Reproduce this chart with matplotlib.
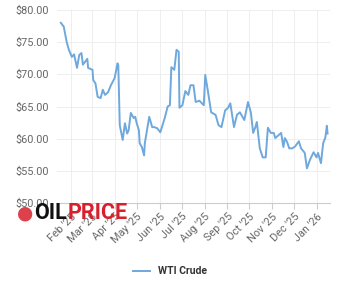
import matplotlib
matplotlib.use("Agg")
import matplotlib.pyplot as plt
import matplotlib.dates as mdates
import pandas as pd

# WTI Crude, approximate closes
dates = [
    "2025-01-18", "2025-01-22", "2025-01-26", "2025-01-29", "2025-02-02",
    "2025-02-05", "2025-02-09", "2025-02-12", "2025-02-15", "2025-02-17",
    "2025-02-23", "2025-02-24", "2025-03-02", "2025-03-03", "2025-03-06",
    "2025-03-09", "2025-03-13", "2025-03-16", "2025-03-19", "2025-03-23",
    "2025-03-27", "2025-04-01", "2025-04-05", "2025-04-06", "2025-04-08",
    "2025-04-12", "2025-04-15", "2025-04-18", "2025-04-20", "2025-04-23",
    "2025-04-27", "2025-04-29", "2025-05-01", "2025-05-04", "2025-05-05",
    "2025-05-08", "2025-05-11", "2025-05-12", "2025-05-18", "2025-05-22",
    "2025-05-25", "2025-05-29", "2025-06-02", "2025-06-08", "2025-06-12",
    "2025-06-15", "2025-06-17", "2025-06-21", "2025-06-24", "2025-06-27",
    "2025-06-28", "2025-07-02", "2025-07-06", "2025-07-10", "2025-07-13",
    "2025-07-17", "2025-07-20", "2025-07-25", "2025-07-31", "2025-08-02",
    "2025-08-06", "2025-08-10", "2025-08-16", "2025-08-20", "2025-08-24",
    "2025-08-29", "2025-09-02", "2025-09-05", "2025-09-10", "2025-09-14",
    "2025-09-18", "2025-09-24", "2025-09-29", "2025-10-03", "2025-10-06",
    "2025-10-09", "2025-10-11", "2025-10-15", "2025-10-19", "2025-10-23",
    "2025-10-26", "2025-10-30", "2025-11-03", "2025-11-05", "2025-11-10",
    "2025-11-13", "2025-11-16", "2025-11-18", "2025-11-21", "2025-11-24",
    "2025-11-28", "2025-12-02", "2025-12-07", "2025-12-10", "2025-12-15",
    "2025-12-18", "2025-12-22", "2025-12-27", "2025-12-31", "2026-01-02",
    "2026-01-06", "2026-01-09", "2026-01-12", "2026-01-14", "2026-01-15",
]
prices = [
    78.0, 77.4, 75.0, 73.8, 72.7,
    73.1, 71.0, 73.0, 73.3, 71.5,
    72.4, 71.0, 70.7, 69.1, 68.6,
    66.5, 66.3, 67.6, 66.8, 67.2,
    68.3, 69.4, 71.7, 71.4, 62.1,
    59.8, 62.4, 60.8, 61.3, 64.0,
    63.2, 63.4, 62.4, 61.3, 59.3,
    58.7, 57.4, 59.3, 63.4, 61.8,
    61.8, 61.6, 61.0, 63.2, 65.0,
    65.2, 71.1, 70.7, 73.8, 73.5,
    64.8, 65.2, 67.4, 66.8, 68.3,
    68.3, 65.7, 65.9, 65.2, 69.9,
    67.1, 64.1, 63.7, 62.1, 61.8,
    64.4, 64.8, 65.5, 61.8, 63.7,
    64.1, 62.9, 65.7, 64.0, 60.9,
    61.8, 62.6, 58.5, 57.1, 57.1,
    61.7, 60.9, 60.9, 60.1, 60.6,
    60.9, 58.7, 60.1, 59.5, 58.5,
    58.5, 58.8, 59.6, 58.5, 57.8,
    55.4, 56.7, 57.9, 57.1, 57.8,
    56.2, 59.3, 60.2, 62.0, 60.8,
]
series_name = "WTI Crude"
y_ticks = [50, 55, 60, 65, 70, 75, 80]

plt.rcParams['font.family'] = ['Roboto', 'DejaVu Sans']

x = pd.to_datetime(dates)

fig = plt.figure(figsize=(3.4, 3.0), dpi=100)
ax = fig.add_axes([0.168, 0.323, 0.802, 0.644])

ax.plot(x, prices, color='#6fa8dc', linewidth=1.4, label=series_name)

ax.set_ylim(50, 80)
ax.set_yticks(y_ticks)
ax.set_yticklabels(['$%.2f' % v for v in y_ticks])
ax.set_xlim(pd.Timestamp("2025-01-13"), pd.Timestamp("2026-01-18"))

month_ticks = pd.date_range("2025-02-01", "2026-01-01", freq="MS")
ax.set_xticks(month_ticks)
ax.xaxis.set_major_formatter(mdates.DateFormatter("%b '%y"))
for lbl in ax.get_xticklabels():
    lbl.set_rotation(45)
    lbl.set_ha('right')
    lbl.set_rotation_mode('anchor')

ax.grid(True, color='#eeeeee', linewidth=0.7)
ax.set_axisbelow(True)
for side in ['top', 'right', 'left']:
    ax.spines[side].set_visible(False)
ax.spines['bottom'].set_color('#cccccc')
ax.tick_params(axis='y', length=0, labelsize=7.8, colors='#666666', pad=6)
ax.tick_params(axis='x', length=4, color='#cccccc', labelsize=7.8,
               labelcolor='#666666', pad=2)

leg = fig.legend(loc='center', bbox_to_anchor=(0.5, 0.095), frameon=False,
                 handlelength=1.6, prop={'weight': 'bold', 'size': 7.5})
for t in leg.get_texts():
    t.set_color('#333333')

# oilprice watermark
fig.text(0.050, 0.29, "\u25cf", color='#d7202b', fontsize=13.5, va='center', alpha=0.85)
oil = fig.text(0.100, 0.29, "OIL", color='#111111', fontsize=15.5, va='center',
               fontweight='bold', family='Roboto')
fig.canvas.draw()
bb = oil.get_window_extent().transformed(fig.transFigure.inverted())
fig.text(bb.x1 + 0.003, 0.29, "PRICE", color='#d7202b', fontsize=15.5,
         va='center', fontweight='bold', family='Roboto')

fig.savefig("out.png", dpi=100)
